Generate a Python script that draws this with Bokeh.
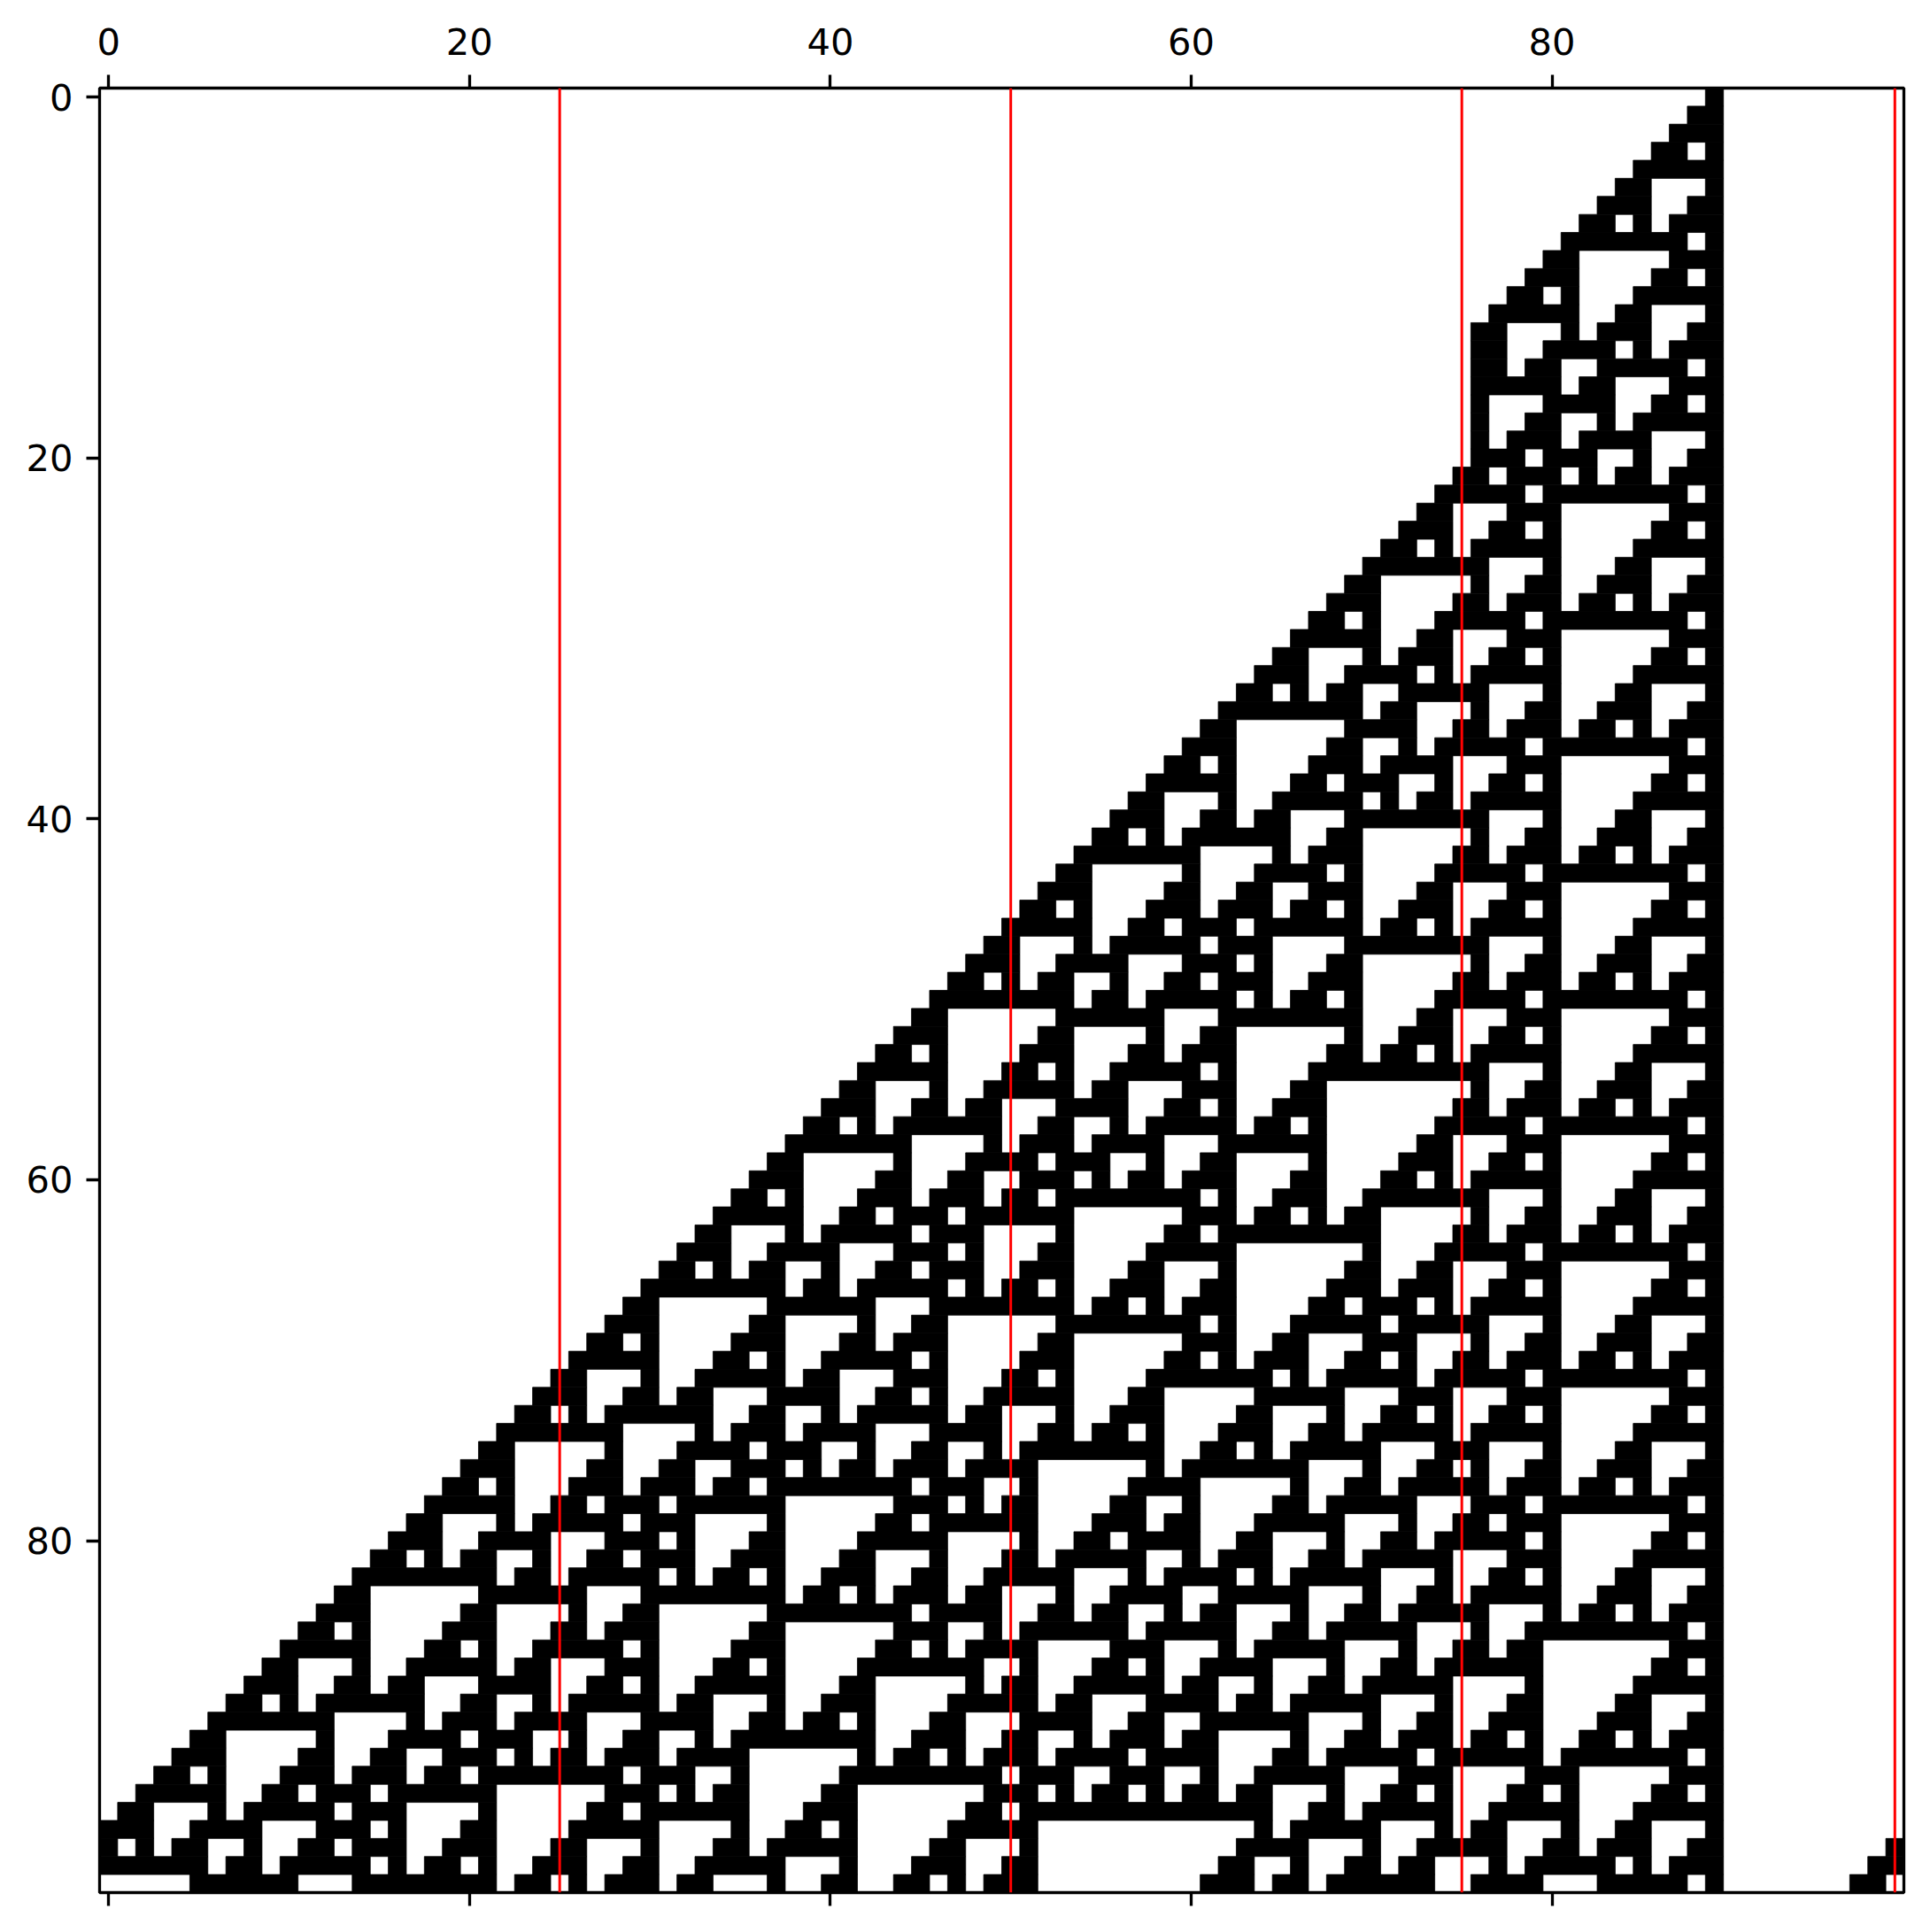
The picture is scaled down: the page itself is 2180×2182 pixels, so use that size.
from bokeh.plotting import figure
from bokeh.models import Range1d, LinearAxis, FixedTicker
from bokeh.embed import file_html
from bokeh.resources import INLINE

# One hexadecimal number per row: bit 99 is column 0, bit 0 is column 99; 1 = black.
row_hex = [
    "400", "c00", "1c00", "3400", "7c00", "c400", "1cc00", "35c00", "7f400", "c1c00",
    "1c3400", "347c00", "7cc400", "c5cc00", "cf5c00", "d9f400", "fb1c00", "8f3400", "997c00", "bbc400",
    "ee4c00", "1badc00", "3eff400", "6381c00", "e683400", "1af87c00", "3f88c400", "6099cc00", "e1bb5c00", "1a3eff400",
    "3e6381c00", "62e683400", "e7af87c00", "1acf88c400", "3fd899cc00", "6079bb5c00", "e0cbeff400", "1a1de381c00", "3e372683400", "627d6f87c00",
    "e6c7f88c400", "1afcc099cc00", "3f85c1bb5c00", "608f43eff400", "e199c6381c00", "1a3bb4e683400", "3e6efdaf87c00", "62fb87f88c400", "e78e8c099cc00", "1ac9b9c1bb5c00",
    "3fdbeb43eff400", "607e3fc6381c00", "e0c2604e683400", "1a1c6e0daf87c00", "3e34fa1ff88c400", "627d8e30099cc00", "e6c79a701bb5c00", "1afccbed03eff400",
    "0000000003f85de3f06381c00", "000000000608f72610e683400",
    "000000000e199d6e31af87c00", "000000001a3bb7fa73f88c400", "000000003e6efc0ed6099cc00", "0000000062fb841bfe1bb5c00", "00000000e78e8c3e023eff400",
    "00000001ac9b9c62066381c00", "00000003fdbeb4e60ee683400", "0000000607e3fdae1baf87c00", "0000000e0c2607fa3ef88c400", "0000001a1c6e0c0e63899cc00",
    "0000003e34fa1c1ae69bb5c00", "000000627d8e343fafbeff400", "000000e6c79a7c60f8e381c00", "000001afccbec4e189a683400", "000003f85de3cda39bef87c00",
    "00000608f7265fe6be388c400", "00000e199d6ef02fe2699cc00", "00001a3bb7fb907826fbb5c00", "00003e6efc0eb0c86f8eff400", "000062fb841bf1d8f89b81c00",
    "0000e78e8c3e137989be83400", "0001ac9b9c6237cb9be387c00", "0003fdbeb4e67c5ebe268c400", "000607e3fdaec4f3e26f9cc00", "000e0c2607fbcd9626f8b5c00",
    "001a1c6e0c0e5fbe6f89ff400", "003e34fa1c1af0e2f89b01c00", "00627d8e343f91a789bf03400", "00e6c79a7c60b3ec9be107c00", "01afccbec4e1f63dbe230c400",
    "03f85de3cda31e67e2671cc00", "0608f7265fe732ec26ed35c00", "0e199d6ef02d77bc6fbf7f400", "1a3bb7fb907fdce4f8e1c1c00", "3e6efc0eb0c075ad89a343400",
    "62fb841bf1c0dfff9be7c7c00", "e78e8c3e1341f000be2c4c400", "ac9b9c6237c31001e27cdcc01", "fdbeb4e67c47300326c5f5c03", "07e3fdaec4cd70076fcf1f406",
]
red_lines = [25, 50, 75, 99]
ticks = [0, 20, 40, 60, 80]

rows = [format(int(h, 16), "0100b") for h in row_hex]
x0, x1, top, bot = [], [], [], []
for r, row in enumerate(rows):
    i = 0
    while i < len(row):
        if row[i] == "1":
            j = i
            while j < len(row) and row[j] == "1":
                j += 1
            x0.append(i - 0.5); x1.append(j - 0.5); top.append(r - 0.5); bot.append(r + 0.5)
            i = j
        else:
            i += 1

p = figure(frame_width=2038, frame_height=2038, output_backend="svg", toolbar_location=None,
           x_range=Range1d(-0.5, 99.5), y_range=Range1d(99.5, -0.5),
           x_axis_location=None, y_axis_location=None, min_border_left=112, min_border_top=99,
           min_border_right=20, min_border_bottom=35)
p.grid.visible = False
p.quad(left=x0, right=x1, top=top, bottom=bot, fill_color="black", line_color="black", line_width=0.8)
p.segment(x0=red_lines, x1=red_lines, y0=[-0.5]*4, y1=[99.5]*4, line_color="red", line_width=3)
for loc, lab, standoff in (("above", True, 23), ("below", False, 15), ("left", True, 15)):
    ax = LinearAxis(ticker=FixedTicker(ticks=ticks))
    ax.major_tick_out = 15; ax.major_tick_in = 0; ax.minor_tick_out = 0; ax.minor_tick_in = 0
    ax.major_tick_line_width = 3.3; ax.major_tick_line_color = "black"; ax.axis_line_color = None
    ax.major_label_text_font = "DejaVu Sans"; ax.major_label_text_font_size = "41.67px"
    ax.major_label_text_color = "black"
    ax.major_label_standoff = standoff
    if not lab:
        ax.major_label_overrides = {t: "" for t in ticks}
    p.add_layout(ax, loc)
p.outline_line_color = "black"; p.outline_line_width = 3.3; p.outline_line_alpha = 1
open("out.html", "w").write(file_html(p, INLINE))
